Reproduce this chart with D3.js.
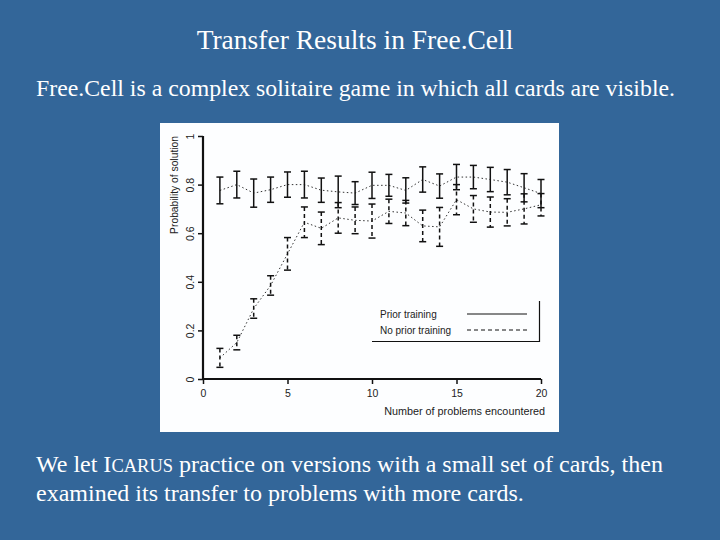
<!DOCTYPE html>
<html><head><meta charset="utf-8">
<script src="https://cdn.jsdelivr.net/npm/d3@7"></script>
<style>
html,body{margin:0;padding:0;background:#336699;}
svg{display:block;}
</style></head>
<body>
<script>
const problems = [1,2,3,4,5,6,7,8,9,10,11,12,13,14,15,16,17,18,19,20];
const priorMean = [0.776,0.800,0.765,0.779,0.800,0.800,0.777,0.770,0.765,0.797,0.797,0.776,0.821,0.794,0.831,0.831,0.821,0.810,0.787,0.763];
const priorErr  = [0.055,0.055,0.058,0.052,0.052,0.055,0.050,0.065,0.047,0.054,0.045,0.052,0.052,0.050,0.052,0.048,0.050,0.052,0.058,0.058];
const noPriorMean = [0.087,0.150,0.290,0.385,0.515,0.645,0.620,0.663,0.653,0.650,0.690,0.683,0.630,0.626,0.738,0.700,0.687,0.686,0.700,0.717];
const noPriorErr  = [0.039,0.030,0.040,0.040,0.067,0.063,0.067,0.063,0.055,0.070,0.050,0.052,0.065,0.080,0.062,0.055,0.062,0.056,0.062,0.046];
const xTicks = [0,5,10,15,20];
const yTicks = [0,0.2,0.4,0.6,0.8,1];
const yTickLabels = ["0","0.2","0.4","0.6","0.8","1"];
const legendLabels = ["Prior training","No prior training"];
const titleText = "Transfer Results in Free.Cell";
const introText = "Free.Cell is a complex solitaire game in which all cards are visible.";

const W = 720, H = 540;
const svg = d3.select("body").append("svg").attr("width", W).attr("height", H);
svg.append("rect").attr("width", W).attr("height", H).attr("fill", "#336699");

const serif = "'Liberation Serif','Times New Roman',serif";
svg.append("text").attr("x", 355).attr("y", 49).attr("text-anchor", "middle")
  .attr("font-family", serif).attr("font-size", 27.5).attr("fill", "#fff").text(titleText);
svg.append("text").attr("x", 36).attr("y", 96)
  .attr("font-family", serif).attr("font-size", 23.8).attr("fill", "#fff").text(introText);

const b1 = svg.append("text").attr("x", 36).attr("y", 472)
  .attr("font-family", serif).attr("font-size", 24).attr("fill", "#fff");
b1.append("tspan").text("We let I");
b1.append("tspan").attr("font-size", 18.5).text("CARUS");
b1.append("tspan").text(" practice on versions with a small set of cards, then");
svg.append("text").attr("x", 36).attr("y", 501)
  .attr("font-family", serif).attr("font-size", 24).attr("fill", "#fff")
  .text("examined its transfer to problems with more cards.");

// chart panel
svg.append("rect").attr("x", 160).attr("y", 123).attr("width", 399).attr("height", 309)
  .attr("fill", "#fdfeff");

const x = d3.scaleLinear().domain([0,20]).range([203,541]);
const y = d3.scaleLinear().domain([0,1]).range([379,136]);
const sans = "'Liberation Sans',Arial,Helvetica,sans-serif";
const ink = "#111";

const g = svg.append("g");

// x axis
const xa = g.append("g").attr("transform", `translate(0,${y(0)})`)
  .call(d3.axisBottom(x).tickValues(xTicks).tickSize(5).tickPadding(6).tickFormat(d3.format("d")));
xa.select(".domain").attr("stroke", ink).attr("stroke-width", 2.2).attr("d", `M${x(0)},0H${x(20)}`);
xa.selectAll(".tick line").attr("stroke", ink).attr("stroke-width", 1.5);
xa.selectAll(".tick text").attr("font-family", sans).attr("font-size", 10.5).attr("fill", "#222");

// y axis
const ya = g.append("g").attr("transform", `translate(${x(0)},0)`)
  .call(d3.axisLeft(y).tickValues(yTicks).tickSize(5).tickFormat((d,i) => yTickLabels[i]));
ya.select(".domain").attr("stroke", ink).attr("stroke-width", 2.2).attr("d", `M0,${y(0)}V${y(1)}`);
ya.selectAll(".tick line").attr("stroke", ink).attr("stroke-width", 1.5);
ya.selectAll(".tick text").attr("font-family", sans).attr("font-size", 10.5).attr("fill", "#222")
  .attr("text-anchor", "middle").attr("transform", "translate(-13,0) rotate(-90)").attr("x", 0).attr("dy", "0.35em");

// axis titles
g.append("text").attr("x", 545).attr("y", 415).attr("text-anchor", "end")
  .attr("font-family", sans).attr("font-size", 10.8).attr("fill", "#222").text("Number of problems encountered");
g.append("text").attr("transform", `translate(178,${y(1)}) rotate(-90)`).attr("text-anchor", "end")
  .attr("font-family", sans).attr("font-size", 10.3).attr("fill", "#222").text("Probability of solution");

function drawSeries(means, errs, dash) {
  const data = problems.map((p,i) => ({p, m: means[i], e: errs[i]}));
  const line = d3.line().x(d => x(d.p)).y(d => y(d.m));
  g.append("path").datum(data).attr("d", line).attr("fill", "none")
    .attr("stroke", "#333").attr("stroke-width", 1).attr("stroke-dasharray", "1.5,2.5");
  const eb = g.append("g");
  data.forEach(d => {
    const cx = x(d.p), top = y(d.m + d.e), bot = y(d.m - d.e);
    eb.append("line").attr("x1", cx).attr("x2", cx).attr("y1", top).attr("y2", bot)
      .attr("stroke", ink).attr("stroke-width", 1.5).attr("stroke-dasharray", dash);
    [top, bot].forEach(yy => eb.append("line").attr("x1", cx-3.5).attr("x2", cx+3.5)
      .attr("y1", yy).attr("y2", yy).attr("stroke", ink).attr("stroke-width", 1.5));
  });
}
drawSeries(priorMean, priorErr, null);
drawSeries(noPriorMean, noPriorErr, "4,3");

// legend
const lg = g.append("g");
lg.append("path").attr("d", "M372,341.5H539.5V301").attr("fill", "none").attr("stroke", ink).attr("stroke-width", 1.2);
legendLabels.forEach((t,i) => {
  const yy = 314 + i*16;
  lg.append("text").attr("x", 380).attr("y", yy + 3.5).attr("font-family", sans).attr("font-size", 10)
    .attr("fill", "#222").text(t);
  lg.append("line").attr("x1", 467).attr("x2", 527).attr("y1", yy).attr("y2", yy)
    .attr("stroke", ink).attr("stroke-width", 1).attr("stroke-dasharray", i ? "4,3" : null);
});
</script>
</body></html>
